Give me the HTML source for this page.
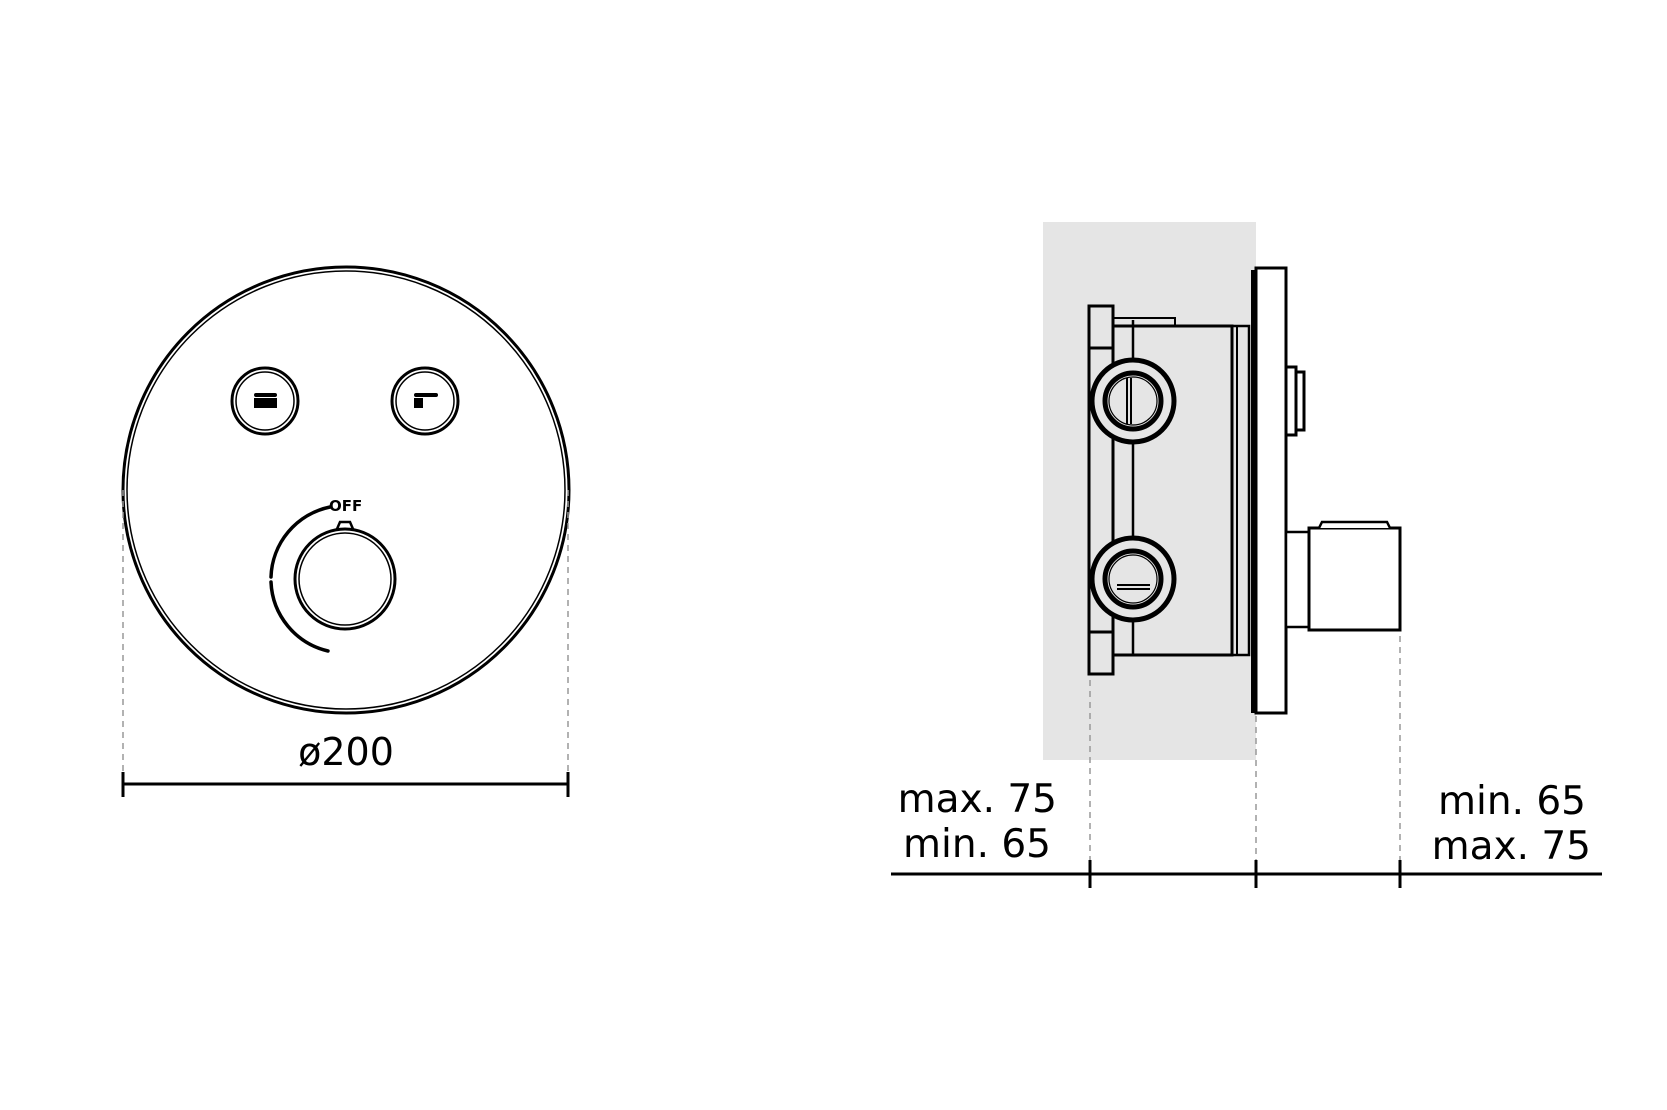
<!DOCTYPE html>
<html><head><meta charset="utf-8"><style>
html,body{margin:0;padding:0;background:#fff;}
svg{display:block;}
text{font-family:"DejaVu Sans","Liberation Sans",sans-serif;fill:#000;}
</style></head><body>
<svg width="1667" height="1110" viewBox="0 0 1667 1110" xmlns="http://www.w3.org/2000/svg">
<!-- LEFT: front view -->
<g fill="none" stroke="#000">
<circle cx="346" cy="490" r="223" stroke-width="3"/>
<circle cx="346" cy="490" r="219" stroke-width="1.5"/>
<circle cx="265" cy="401" r="33" stroke-width="3"/>
<circle cx="265" cy="401" r="29" stroke-width="1.5"/>
<circle cx="425" cy="401" r="33" stroke-width="3"/>
<circle cx="425" cy="401" r="29" stroke-width="1.5"/>
<circle cx="345" cy="579" r="50" stroke-width="3"/>
<circle cx="345" cy="579" r="46" stroke-width="1.5"/>
<path d="M330 507 A74 74 0 0 0 271 577" stroke-width="3.5" stroke-linecap="round"/>
<path d="M271 582 A74 74 0 0 0 328 651" stroke-width="3.5" stroke-linecap="round"/>
<path d="M337 529 L340 522 L350 522 L353 529" stroke-width="2.5"/>
<line x1="123" y1="490" x2="123" y2="780" stroke="#999" stroke-width="1.5" stroke-dasharray="6,5"/>
<line x1="568" y1="490" x2="568" y2="780" stroke="#999" stroke-width="1.5" stroke-dasharray="6,5"/>
<line x1="123" y1="784" x2="568" y2="784" stroke-width="3"/>
<line x1="123" y1="772" x2="123" y2="797" stroke-width="3"/>
<line x1="568" y1="772" x2="568" y2="797" stroke-width="3"/>
</g>
<rect x="254" y="393" width="23" height="4" rx="2"/>
<rect x="254" y="398" width="23" height="10"/>
<rect x="414" y="393" width="24" height="4" rx="2"/>
<rect x="414" y="398" width="9" height="10"/>
<text x="329" y="511" font-size="15" font-weight="bold">OFF</text>
<text x="346" y="765" font-size="38" text-anchor="middle">ø200</text>

<!-- RIGHT: side view -->
<rect x="1043" y="222" width="213" height="538" fill="#e5e5e5"/>
<g fill="none" stroke="#000" stroke-width="3">
<rect x="1089" y="306" width="24" height="368" fill="#e5e5e5"/>
<rect x="1113" y="318" width="62" height="8" stroke-width="2"/>
<rect x="1113" y="326" width="119" height="329"/>
<line x1="1133" y1="320" x2="1133" y2="655" stroke-width="2.5"/>
<line x1="1089" y1="348" x2="1113" y2="348"/>
<line x1="1089" y1="632" x2="1113" y2="632"/>
<rect x="1232" y="326" width="17" height="329" stroke-width="2.5"/>
<line x1="1237" y1="326" x2="1237" y2="655" stroke-width="2"/>
<line x1="1253" y1="270" x2="1253" y2="713" stroke-width="4"/>
<rect x="1256" y="268" width="30" height="445" fill="#fff"/>
<rect x="1286" y="367" width="10" height="68" fill="#fff"/>
<rect x="1296" y="372" width="8" height="58" fill="#fff"/>
<rect x="1286" y="532" width="23" height="95" fill="#fff" stroke-width="2.5"/>
<rect x="1309" y="528" width="91" height="102" fill="#fff"/>
<path d="M1319 528 L1322 522 L1387 522 L1390 528" stroke-width="2.5" fill="#fff"/>
</g>
<g fill="#e5e5e5" stroke="#000">
<circle cx="1133" cy="401" r="41" stroke-width="5"/>
<circle cx="1133" cy="401" r="28" stroke-width="5"/>
<circle cx="1133" cy="401" r="24" stroke-width="1.2"/>
<circle cx="1133" cy="579" r="41" stroke-width="5"/>
<circle cx="1133" cy="579" r="28" stroke-width="5"/>
<circle cx="1133" cy="579" r="24" stroke-width="1.2"/>
</g>
<g stroke="#000" stroke-width="2">
<line x1="1127" y1="378" x2="1127" y2="424"/><line x1="1131" y1="378" x2="1131" y2="424"/>
<line x1="1117" y1="585" x2="1150" y2="585"/><line x1="1117" y1="589" x2="1150" y2="589"/>
</g>
<g stroke="#999" stroke-width="1.5" stroke-dasharray="6,5">
<line x1="1090" y1="680" x2="1090" y2="862"/>
<line x1="1256" y1="716" x2="1256" y2="862"/>
<line x1="1400" y1="636" x2="1400" y2="862"/>
</g>
<g stroke="#000" stroke-width="3">
<line x1="891" y1="874" x2="1602" y2="874"/>
<line x1="1090" y1="860" x2="1090" y2="888"/>
<line x1="1256" y1="860" x2="1256" y2="888"/>
<line x1="1400" y1="860" x2="1400" y2="888"/>
</g>
<g font-size="39">
<text x="1057" y="812" text-anchor="end">max. 75</text>
<text x="1051" y="857" text-anchor="end">min. 65</text>
<text x="1586" y="814" text-anchor="end">min. 65</text>
<text x="1591" y="859" text-anchor="end">max. 75</text>
</g>
</svg>
</body></html>
